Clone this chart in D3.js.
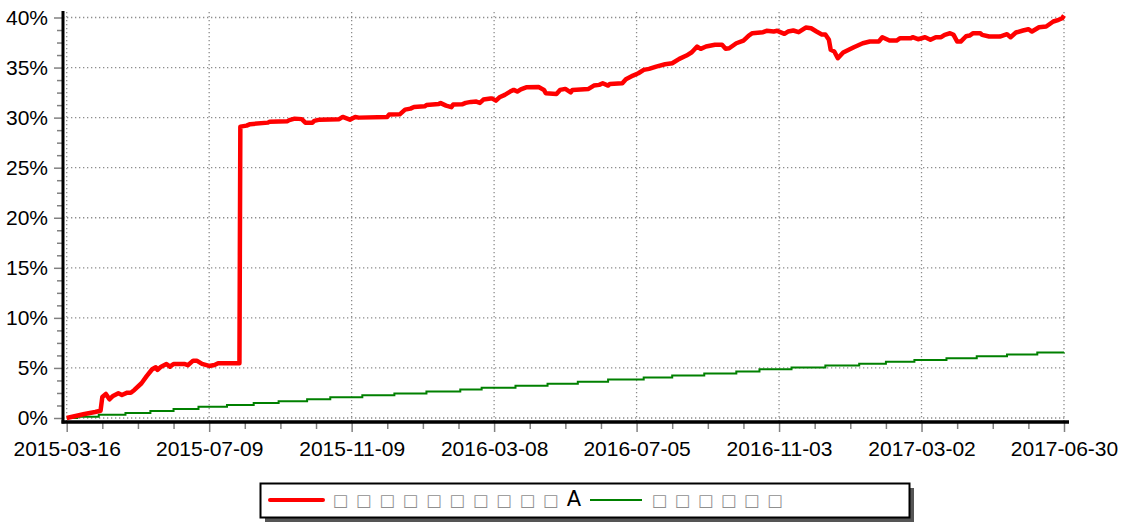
<!DOCTYPE html>
<html>
<head>
<meta charset="utf-8">
<script src="https://cdn.jsdelivr.net/npm/d3@7"></script>
<style>
  body { margin: 0; background: #fff; }
  svg { display: block; }
</style>
</head>
<body>
<svg id="chart" width="1123" height="523"></svg>
<script>
// trading-day index of each tick label (80 sessions apart)
const tickIdx = [0, 80, 160, 240, 320, 400, 480, 560];
const tickLabels = ["2015-03-16", "2015-07-09", "2015-11-09", "2016-03-08",
  "2016-07-05", "2016-11-03", "2017-03-02", "2017-06-30"];
const yTicks = [0, 5, 10, 15, 20, 25, 30, 35, 40];

// fund cumulative return (%), sampled by trading-day index
const fundIdx = [0, 5, 10, 16, 19, 20, 22, 24, 26, 29, 31, 34, 36, 38, 42, 45, 48, 50, 51, 53,
  56, 58, 60, 66, 68, 71, 73, 76, 80, 83, 85, 95, 97, 97.5, 101, 103, 113, 114, 124, 125,
  128, 132, 134, 138, 139, 142, 153, 155, 159, 162, 164, 180, 181, 187, 190, 193, 195, 201, 202, 209,
  210, 213, 216, 217, 222, 224, 227, 230, 232, 234, 238, 239, 241, 243, 246, 249, 251, 253, 255, 258,
  265, 268, 269, 275, 277, 280, 283, 284, 293, 296, 299, 301, 304, 305, 312, 314, 318, 321, 324, 327,
  331, 336, 340, 344, 348, 351, 354, 356, 359, 364, 368, 370, 372, 376, 380, 383, 385, 391, 393, 397,
  399, 403, 405, 408, 411, 415, 418, 421, 424, 426, 428, 429, 431, 433, 436, 442, 447, 451, 456, 458,
  462, 466, 468, 474, 475, 478, 482, 485, 488, 491, 493, 496, 498, 500, 502, 505, 507, 509, 513, 514,
  518, 524, 528, 530, 533, 537, 540, 542, 546, 550, 554, 557, 559, 560];
const fundVal = [0, 0.2, 0.4, 0.6, 0.73, 2.1, 2.4, 1.87, 2.2, 2.47, 2.3, 2.53, 2.53, 2.8, 3.47, 4.2, 4.87, 5.07, 4.8, 5.13,
  5.4, 5.13, 5.4, 5.4, 5.27, 5.73, 5.73, 5.4, 5.2, 5.3, 5.47, 5.47, 5.47, 29.1, 29.2, 29.35, 29.5, 29.6, 29.65, 29.75,
  29.9, 29.85, 29.5, 29.5, 29.67, 29.8, 29.85, 30.07, 29.8, 30.07, 30.0, 30.07, 30.3, 30.33, 30.8, 30.9, 31.07, 31.13, 31.25, 31.37,
  31.45, 31.2, 31.05, 31.3, 31.33, 31.47, 31.57, 31.6, 31.47, 31.8, 31.9, 31.9, 31.7, 32.03, 32.27, 32.6, 32.77, 32.6, 32.83, 33.03,
  33.05, 32.77, 32.43, 32.37, 32.77, 32.87, 32.53, 32.77, 32.87, 33.2, 33.27, 33.43, 33.2, 33.37, 33.43, 33.83, 34.2, 34.43, 34.77, 34.87,
  35.1, 35.33, 35.43, 35.87, 36.2, 36.53, 37.1, 36.87, 37.1, 37.27, 37.27, 36.87, 36.93, 37.43, 37.7, 38.2, 38.43, 38.53, 38.67, 38.6,
  38.67, 38.37, 38.6, 38.7, 38.53, 39.0, 38.93, 38.6, 38.3, 38.3, 37.77, 36.77, 36.6, 35.93, 36.5, 37.03, 37.43, 37.6, 37.6, 38.03,
  37.7, 37.7, 37.93, 37.93, 38.03, 37.83, 38.03, 37.77, 38.03, 38.03, 38.27, 38.43, 38.27, 37.6, 37.6, 38.13, 38.2, 38.43, 38.43, 38.27,
  38.1, 38.1, 38.33, 38.03, 38.5, 38.7, 38.83, 38.6, 39.03, 39.1, 39.6, 39.77, 39.93, 40.2];

// benchmark (%), a staircase: level holds from each index to the next
const benchIdx = [0, 6, 18, 33, 47, 60, 74, 90, 105, 119, 135, 148, 166, 184, 202, 221, 233, 252, 270, 287,
  304, 324, 340, 358, 376, 389, 407, 426, 445, 460, 476, 494, 511, 528, 545, 560];
const benchVal = [0, 0.12, 0.32, 0.5, 0.7, 0.9, 1.12, 1.3, 1.5, 1.68, 1.88, 2.07, 2.26, 2.45, 2.64, 2.84, 3.03, 3.22, 3.41, 3.62,
  3.84, 4.05, 4.25, 4.45, 4.65, 4.86, 5.05, 5.24, 5.42, 5.61, 5.8, 5.98, 6.16, 6.34, 6.53, 6.55];

// legend labels (the source glyphs render as empty boxes)
const fundName = "\u25A1 \u25A1 \u25A1 \u25A1 \u25A1 \u25A1 \u25A1 \u25A1 \u25A1 \u25A1 A";
const benchName = "\u25A1 \u25A1 \u25A1 \u25A1 \u25A1 \u25A1";

const svg = d3.select("#chart");
const axisX = 63;     // where the y axis line sits
const axisY = 422;    // where the x axis line sits
const font = "'Liberation Sans', Arial, sans-serif";

const x = d3.scaleLinear().domain([0, 560]).range([66.7, 1064]);
const y = d3.scaleLinear().domain([0, 40]).range([418, 17.5]);

// --- grid ---
const grid = svg.append("g")
  .attr("stroke", "#8c8c8c")
  .attr("stroke-width", 1.3)
  .attr("stroke-dasharray", "1.3,2.7");

grid.selectAll("line.h")
  .data(yTicks)
  .join("line")
  .attr("class", "h")
  .attr("x1", axisX).attr("x2", 1067)
  .attr("y1", d => y(d)).attr("y2", d => y(d));

grid.selectAll("line.v")
  .data(tickIdx)
  .join("line")
  .attr("class", "v")
  .attr("x1", d => x(d)).attr("x2", d => x(d))
  .attr("y1", 12).attr("y2", axisY);

// --- y axis ---
const yMinor = d3.range(0, 40.01, 1.25).filter(v => v % 5 !== 0);

svg.append("g")
  .attr("transform", `translate(${axisX},0)`)
  .call(d3.axisLeft(y).tickValues(yMinor).tickSize(6).tickFormat(""))
  .call(g => g.select(".domain").remove())
  .call(g => g.selectAll("line").attr("stroke", "#808080").attr("stroke-width", 1.5));

svg.append("g")
  .attr("transform", `translate(${axisX},0)`)
  .call(d3.axisLeft(y).tickValues(yTicks).tickSize(9).tickPadding(6).tickFormat(d => d + "%"))
  .call(g => g.select(".domain").remove())
  .call(g => g.selectAll("line").attr("stroke", "#808080").attr("stroke-width", 1.5))
  .call(g => g.selectAll("text")
    .attr("font-family", font).attr("font-size", "21px").attr("fill", "#000"));

// --- x axis ---
const xMinor = d3.range(0, 561, 20).filter(v => v % 80 !== 0);

svg.append("g")
  .attr("transform", `translate(0,${axisY})`)
  .call(d3.axisBottom(x).tickValues(xMinor).tickSize(7).tickFormat(""))
  .call(g => g.select(".domain").remove())
  .call(g => g.selectAll("line").attr("stroke", "#808080").attr("stroke-width", 1.5));

svg.append("g")
  .attr("transform", `translate(0,${axisY})`)
  .call(d3.axisBottom(x).tickValues(tickIdx).tickSize(10).tickPadding(9)
    .tickFormat((d, i) => tickLabels[i]))
  .call(g => g.select(".domain").remove())
  .call(g => g.selectAll("line").attr("stroke", "#808080").attr("stroke-width", 1.5))
  .call(g => g.selectAll("text")
    .attr("font-family", font).attr("font-size", "21px").attr("fill", "#000"));

// axis lines
svg.append("line")
  .attr("x1", axisX).attr("x2", axisX).attr("y1", 11).attr("y2", axisY + 1.5)
  .attr("stroke", "#000").attr("stroke-width", 3);
svg.append("line")
  .attr("x1", axisX - 1.5).attr("x2", 1069).attr("y1", axisY).attr("y2", axisY)
  .attr("stroke", "#000").attr("stroke-width", 3.5);

// --- series ---
const benchLine = d3.line()
  .x(i => x(benchIdx[i]))
  .y(i => y(benchVal[i]))
  .curve(d3.curveStepAfter);

svg.append("path")
  .datum(d3.range(benchIdx.length))
  .attr("d", benchLine)
  .attr("fill", "none")
  .attr("stroke", "#008000")
  .attr("stroke-width", 2);

const fundLine = d3.line()
  .x(i => x(fundIdx[i]))
  .y(i => y(fundVal[i]));

svg.append("path")
  .datum(d3.range(fundIdx.length))
  .attr("d", fundLine)
  .attr("fill", "none")
  .attr("stroke", "#ff0000")
  .attr("stroke-width", 4.5)
  .attr("stroke-linejoin", "round");

// --- legend ---
const legend = svg.append("g");
legend.append("rect")
  .attr("x", 265).attr("y", 488).attr("width", 649).attr("height", 34)
  .attr("fill", "#555");
legend.append("rect")
  .attr("x", 260.5).attr("y", 483.5).attr("width", 649).attr("height", 34)
  .attr("fill", "#fff").attr("stroke", "#000").attr("stroke-width", 2);

legend.append("line")
  .attr("x1", 270).attr("x2", 323).attr("y1", 500).attr("y2", 500)
  .attr("stroke", "#ff0000").attr("stroke-width", 4).attr("stroke-linecap", "round");
legend.append("line")
  .attr("x1", 590).attr("x2", 642).attr("y1", 500).attr("y2", 500)
  .attr("stroke", "#008000").attr("stroke-width", 2);

function legendLabel(str, x0, len) {
  const t = legend.append("text")
    .attr("x", x0).attr("y", 506)
    .attr("font-family", "'DejaVu Sans', sans-serif")
    .attr("font-size", "21px")
    .attr("textLength", len)
    .attr("lengthAdjust", "spacing");
  str.split("").forEach(c => {
    t.append("tspan")
      .attr("fill", c === "A" ? "#000" : "#8f8f8f")
      .attr("font-size", c === "A" ? "21px" : "16.5px")
      .text(c);
  });
}
legendLabel(fundName, 333, 248);
legendLabel(benchName, 652, 131);
</script>
</body>
</html>
